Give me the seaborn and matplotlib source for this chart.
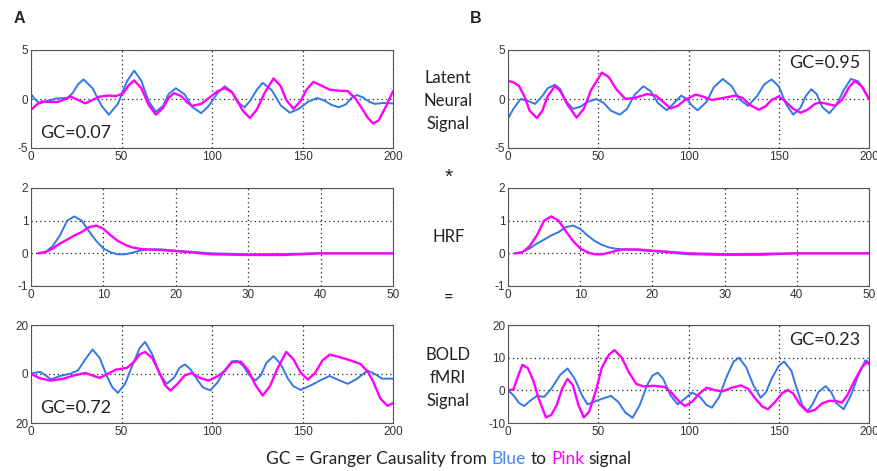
import matplotlib
matplotlib.use("Agg")
import matplotlib.pyplot as plt
import seaborn as sns

# (time, value) pairs

# latent neural signal, column A
latent_a_blue = [(0, 0.5), (2, 0.0), (5, -0.45), (9, -0.2), (14, 0.05), (20, 0.1), (23, 0.6), (26, 1.5),
                 (29, 2.0), (34, 1.1), (39, -0.7), (43, -1.6), (48, -0.5), (53, 1.8), (57, 2.9), (61, 1.85),
                 (65, -0.25), (69, -1.3), (73, -0.7), (76, 0.5), (80, 1.1), (85, 0.45), (89, -0.8), (94, -1.45),
                 (98, -0.75), (103, 0.6), (107, 1.3), (111, 0.75), (114, -0.3), (118, -0.85), (121, -0.2),
                 (125, 1.0), (128, 1.65), (133, 0.9), (138, -0.65), (143, -1.4), (148, -1.0), (153, -0.3),
                 (158, 0.1), (162, -0.15), (166, -0.6), (170, -0.85), (174, -0.55), (177, 0.1), (180, 0.4),
                 (183, 0.2), (187, -0.3), (190, -0.5), (195, -0.4), (200, -0.45)]
latent_a_pink = [(0, -1.1), (3, -0.6), (6, -0.25), (10, -0.3), (15, -0.3), (22, 0.25), (26, -0.1), (30, -0.45),
                 (34, -0.1), (38, 0.25), (43, 0.35), (47, 0.3), (51, 0.6), (54, 1.4), (57, 1.9), (61, 1.1),
                 (65, -0.6), (69, -1.6), (73, -0.9), (76, 0.1), (79, 0.6), (83, 0.3), (86, -0.3), (89, -0.7),
                 (94, -0.5), (99, 0.2), (103, 0.8), (107, 1.1), (111, 0.7), (114, -0.2), (117, -1.2),
                 (121, -1.95), (125, -1.0), (129, 0.6), (134, 2.1), (138, 1.3), (141, -0.1), (145, -1.0),
                 (149, -0.2), (152, 0.9), (156, 1.75), (160, 1.4), (165, 0.95), (170, 0.85), (175, 0.8),
                 (179, 0.1), (183, -1.0), (186, -1.9), (189, -2.5), (192, -2.2), (196, -0.8), (200, 0.8)]

# latent neural signal, column B
latent_b_blue = [(0, -2.0), (3, -1.0), (7, 0.0), (11, -0.2), (15, -0.5), (19, 0.3), (22, 1.1), (26, 1.45),
                 (29, 1.0), (32, -0.2), (36, -1.0), (40, -0.8), (44, -0.3), (49, 0.0), (53, -0.4), (57, -1.2),
                 (62, -1.6), (66, -1.0), (70, 0.4), (75, 1.3), (79, 0.8), (83, -0.4), (88, -1.15), (91, -0.6),
                 (96, 0.35), (99, 0.0), (102, -0.7), (105, -1.15), (110, -0.3), (114, 1.2), (119, 2.05),
                 (124, 1.3), (128, 0.0), (133, -0.7), (138, 0.3), (142, 1.5), (146, 2.0), (150, 1.3),
                 (154, -0.5), (158, -1.6), (162, -0.9), (165, 0.3), (168, 1.0), (171, 0.5), (174, -0.8),
                 (178, -1.45), (182, -0.6), (186, 0.9), (190, 2.05), (194, 1.8), (197, 1.0), (200, 0.0)]
latent_b_pink = [(0, 1.85), (3, 1.7), (6, 1.35), (9, 0.3), (12, -1.2), (16, -1.95), (19, -1.2), (22, 0.3),
                 (26, 1.3), (29, 0.8), (33, -0.6), (38, -1.9), (42, -1.0), (46, 0.9), (52, 2.7), (56, 2.2),
                 (60, 1.0), (65, 0.0), (70, 0.1), (77, 0.5), (82, 0.35), (86, -0.3), (90, -0.95), (94, -0.7),
                 (98, -0.1), (104, 0.45), (108, 0.25), (113, -0.1), (119, 0.1), (126, 0.35), (130, 0.1),
                 (134, -0.6), (139, -1.1), (143, -0.7), (146, -0.1), (150, 0.25), (154, -0.3), (158, -1.0),
                 (162, -1.4), (166, -1.1), (170, -0.5), (173, -0.35), (177, -0.5), (181, -0.7), (185, -0.1),
                 (189, 1.2), (192, 1.85), (196, 1.3), (200, 0.0)]

# haemodynamic response functions (fast peak / slow peak)
hrf_fast = [(1, 0.0), (2, 0.03), (3, 0.22), (4, 0.55), (5, 1.0), (6, 1.13), (7, 1.0), (8, 0.68), (9, 0.38),
            (10, 0.15), (11, 0.03), (12, -0.03), (13, -0.03), (14, 0.02), (15, 0.08), (16, 0.12), (17, 0.12),
            (18, 0.12), (19, 0.1), (20, 0.08), (22, 0.05), (25, 0.0), (30, -0.03), (35, -0.02), (40, 0.0),
            (45, 0.0), (50, 0.0)]
hrf_slow = [(1, 0.0), (2, 0.04), (3, 0.15), (4, 0.3), (5, 0.42), (6, 0.55), (7, 0.65), (8, 0.8), (9, 0.85),
            (10, 0.75), (11, 0.55), (12, 0.38), (13, 0.26), (14, 0.18), (15, 0.14), (16, 0.12), (17, 0.11),
            (18, 0.1), (19, 0.08), (20, 0.07), (22, 0.03), (25, -0.03), (30, -0.05), (35, -0.05), (40, 0.0),
            (45, 0.0), (50, 0.0)]

# BOLD fMRI signal, column A
bold_a_blue = [(0, 0.2), (5, 0.9), (8, -0.5), (11, -2.2), (16, -0.8), (22, 0.2), (26, 1.5), (30, 6.0),
               (34, 10.0), (38, 6.5), (42, -1.0), (45, -5.5), (48, -7.7), (52, -4.0), (56, 3.5), (60, 10.5),
               (63, 13.1), (67, 8.0), (71, 0.0), (75, -4.0), (79, -1.5), (82, 2.5), (85, 3.9), (88, 2.0),
               (92, -2.5), (95, -5.5), (99, -6.7), (103, -3.5), (107, 1.5), (111, 5.2), (114, 5.3), (117, 3.5),
               (121, -0.8), (124, -2.6), (127, -0.5), (130, 4.5), (134, 7.3), (138, 4.0), (142, -2.0),
               (145, -5.0), (149, -6.5), (155, -4.5), (160, -2.5), (165, -0.8), (170, -2.5), (175, -4.0),
               (180, -2.0), (186, 1.4), (190, 0.0), (194, -1.9), (200, -1.9)]
bold_a_pink = [(0, 0.0), (5, -1.8), (11, -2.7), (18, -1.9), (24, -0.5), (30, 0.4), (34, -0.6), (38, -1.6),
               (43, 0.3), (47, 1.8), (53, 2.5), (57, 5.0), (60, 8.0), (63, 9.0), (67, 6.5), (71, 0.5),
               (74, -4.5), (77, -6.8), (81, -4.0), (85, -0.5), (89, 0.4), (93, -1.5), (98, -2.7), (103, -1.0),
               (107, 1.2), (111, 4.8), (116, 5.0), (120, 1.5), (124, -4.5), (128, -8.8), (132, -5.0),
               (136, 2.0), (141, 9.0), (145, 6.0), (149, 0.5), (153, -2.3), (157, 0.5), (161, 5.5),
               (165, 7.9), (170, 7.0), (175, 5.9), (182, 4.1), (186, 1.0), (189, -3.0), (193, -10.0),
               (197, -13.0), (200, -11.9)]

# BOLD fMRI signal, column B
bold_b_blue = [(0, 0.0), (3, -1.5), (6, -3.8), (9, -4.8), (12, -3.3), (16, -1.7), (20, -2.0), (24, 0.5),
               (29, 4.8), (33, 6.7), (37, 3.5), (41, -1.5), (44, -4.3), (50, -3.0), (57, -1.7), (61, -3.5),
               (65, -6.8), (69, -8.4), (73, -4.5), (77, 1.5), (80, 4.5), (83, 5.4), (86, 3.5), (90, -1.5),
               (94, -4.3), (98, -2.5), (102, -0.7), (106, -1.8), (110, -4.5), (113, -5.3), (117, -2.0),
               (121, 4.0), (125, 8.8), (128, 10.0), (132, 7.0), (136, 1.5), (140, -2.3), (143, -0.5),
               (146, 3.5), (150, 7.5), (153, 8.8), (157, 6.0), (160, 0.5), (163, -4.5), (166, -6.4),
               (169, -4.0), (172, -0.5), (176, 1.3), (179, -0.5), (182, -4.0), (186, -5.8), (190, -1.5),
               (194, 4.5), (198, 9.2), (200, 8.5)]
bold_b_pink = [(0, 0.0), (3, 0.3), (5, 3.5), (8, 7.8), (11, 6.8), (14, 3.0), (17, -2.5), (21, -8.3),
               (24, -7.5), (27, -4.5), (30, 0.5), (33, 3.5), (36, 1.5), (39, -4.5), (42, -8.3), (45, -6.5),
               (49, 0.5), (52, 7.0), (56, 11.0), (59, 12.3), (63, 10.0), (67, 5.5), (71, 2.0), (75, 1.2),
               (81, 1.4), (87, 1.0), (91, -1.0), (95, -3.5), (98, -4.8), (102, -3.5), (106, -1.0), (110, 0.8),
               (115, 0.0), (119, -0.3), (124, 0.8), (129, 1.5), (133, 0.5), (137, -2.5), (141, -5.0),
               (144, -5.8), (148, -3.5), (152, -0.8), (155, 0.1), (158, -1.0), (162, -4.5), (166, -6.6),
               (170, -6.0), (174, -4.0), (178, -3.2), (182, -3.3), (185, -3.8), (188, -1.5), (192, 3.0),
               (196, 7.0), (199, 8.8), (200, 8.0)]

gc_values = ["GC=0.07", "GC=0.95", "GC=0.72", "GC=0.23"]

BLUE = "#3278e6"
PINK = "#ff00ff"

sns.set_theme(style="white")
plt.rcParams["axes.unicode_minus"] = False
plt.rcParams["font.family"] = ["Liberation Sans", "DejaVu Sans"]

fig = plt.figure(figsize=(8.77, 4.71), dpi=100)

W, H = 877, 471


def make_ax(left, top, right, bottom):
    return fig.add_axes([left / W, 1 - bottom / H, (right - left) / W, (bottom - top) / H])


def style(ax, xlim, xticks, ylim, yticks, ylabels=None):
    ax.set_xlim(*xlim)
    ax.set_ylim(*ylim)
    ax.set_xticks(xticks)
    ax.set_yticks(yticks)
    if ylabels is not None:
        ax.set_yticklabels(ylabels)
    ax.grid(True, ls=(0, (1, 2.5)), color="#222222", lw=0.9)
    ax.tick_params(direction="in", length=3, width=0.6, labelsize=8.5, colors="#333333", pad=2)
    for s in ax.spines.values():
        s.set_color("#555555")
        s.set_linewidth(0.8)
    ax.set_xlabel("")
    ax.set_ylabel("")


def draw(ax, blue, pink):
    bt, bv = zip(*blue)
    pt, pv = zip(*pink)
    sns.lineplot(x=list(bt), y=list(bv), ax=ax, color=BLUE, lw=1.4, estimator=None, sort=False)
    sns.lineplot(x=list(pt), y=list(pv), ax=ax, color=PINK, lw=1.7, estimator=None, sort=False)


rows = [(50, 148), (188, 286), (325, 423)]
cols = [(31, 393), (508, 869)]

# row 1: latent neural signals
ax = make_ax(cols[0][0], rows[0][0], cols[0][1], rows[0][1])
draw(ax, latent_a_blue, latent_a_pink)
style(ax, (0, 200), [0, 50, 100, 150, 200], (-5, 5), [-5, 0, 5])
ax.text(0.025, 0.15, gc_values[0], transform=ax.transAxes, fontsize=13, family="Lato",
        color="#222222", va="center")

ax = make_ax(cols[1][0], rows[0][0], cols[1][1], rows[0][1])
draw(ax, latent_b_blue, latent_b_pink)
style(ax, (0, 200), [0, 50, 100, 150, 200], (-5, 5), [-5, 0, 5])
ax.text(0.975, 0.87, gc_values[1], transform=ax.transAxes, fontsize=13, family="Lato",
        color="#222222", va="center", ha="right")

# row 2: HRFs
ax = make_ax(cols[0][0], rows[1][0], cols[0][1], rows[1][1])
draw(ax, hrf_fast, hrf_slow)
style(ax, (0, 50), [0, 10, 20, 30, 40, 50], (-1, 2), [-1, 0, 1, 2])

ax = make_ax(cols[1][0], rows[1][0], cols[1][1], rows[1][1])
draw(ax, hrf_slow, hrf_fast)
style(ax, (0, 50), [0, 10, 20, 30, 40, 50], (-1, 2), [-1, 0, 1, 2])

# row 3: BOLD signals
ax = make_ax(cols[0][0], rows[2][0], cols[0][1], rows[2][1])
draw(ax, bold_a_blue, bold_a_pink)
style(ax, (0, 200), [0, 50, 100, 150, 200], (-20, 20), [-20, 0, 20], ["20", "0", "20"])
ax.text(0.025, 0.15, gc_values[2], transform=ax.transAxes, fontsize=13, family="Lato",
        color="#222222", va="center")

ax = make_ax(cols[1][0], rows[2][0], cols[1][1], rows[2][1])
draw(ax, bold_b_blue, bold_b_pink)
style(ax, (0, 200), [0, 50, 100, 150, 200], (-10, 20), [-10, 0, 10, 20])
ax.text(0.975, 0.85, gc_values[3], transform=ax.transAxes, fontsize=13, family="Lato",
        color="#222222", va="center", ha="right")

# panel letters
fig.text(19.5 / W, 1 - 18.5 / H, "A", fontsize=11.5, fontweight="bold", ha="center", va="center")
fig.text(475.5 / W, 1 - 18.5 / H, "B", fontsize=11.5, fontweight="bold", ha="center", va="center")

# middle labels
mid = dict(ha="center", va="center", fontsize=12, family="Lato", color="#222222", linespacing=1.55)
fig.text(448 / W, 1 - 101 / H, "Latent\nNeural\nSignal", **mid)
fig.text(449 / W, 1 - 177 / H, "*", ha="center", va="center", fontsize=15, color="#222222")
fig.text(449 / W, 1 - 237 / H, "HRF", **mid)
fig.text(449 / W, 1 - 297 / H, "=", **mid)
fig.text(448 / W, 1 - 378 / H, "BOLD\nfMRI\nSignal", **mid)

# caption with coloured words
segments = [("GC = Granger Causality from", "#222222"), ("Blue", "#4a86e8"), ("to", "#222222"),
            ("Pink", PINK), ("signal", "#222222")]
renderer = fig.canvas.get_renderer()
cap = dict(fontsize=12.5, family="Lato", va="center", ha="left")
probe1 = fig.text(0, 0, "a a", **cap)
probe2 = fig.text(0, 0, "aa", **cap)
gap = probe1.get_window_extent(renderer).width - probe2.get_window_extent(renderer).width
probe1.remove()
probe2.remove()
texts = [fig.text(0, 1 - 459 / H, s, color=c, **cap) for s, c in segments]
widths = [t.get_window_extent(renderer).width for t in texts]
total = sum(widths) + gap * (len(texts) - 1)
x = 449 - total / 2
for t, w in zip(texts, widths):
    t.set_x(x / W)
    x += w + gap

fig.savefig("out.png", dpi=100)
